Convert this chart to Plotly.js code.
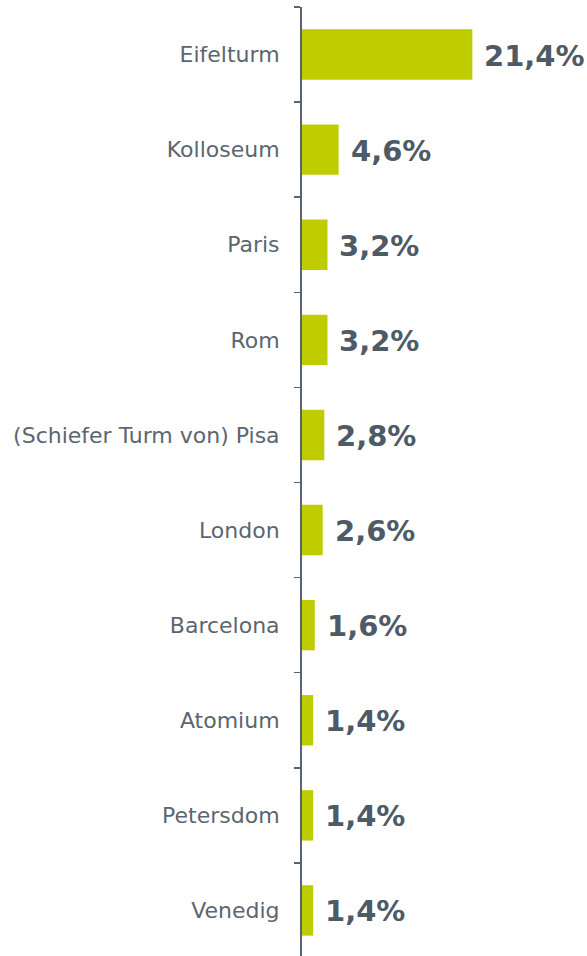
<!DOCTYPE html>
<html>
<head>
<meta charset="utf-8">
<script src="https://cdn.plot.ly/plotly-3.0.1.min.js"></script>
<style>html,body{margin:0;padding:0;background:#fff;overflow:hidden;}#chart{width:587px;height:958px;}</style>
</head>
<body>
<div id="chart"></div>
<script>
var categories = ["Eifelturm", "Kolloseum", "Paris", "Rom", "(Schiefer Turm von) Pisa", "London", "Barcelona", "Atomium", "Petersdom", "Venedig"];
var values = [21.4, 4.6, 3.2, 3.2, 2.8, 2.6, 1.6, 1.4, 1.4, 1.4];
var valueLabels = ["21,4%", "4,6%", "3,2%", "3,2%", "2,8%", "2,6%", "1,6%", "1,4%", "1,4%", "1,4%"];

var trace = {
  type: 'bar',
  orientation: 'h',
  x: values,
  y: categories,
  marker: {color: '#bfcc00'},
  hoverinfo: 'none'
};

var annotations = categories.map(function(c, i) {
  return {
    x: values[i], y: c, xref: 'x', yref: 'y',
    text: valueLabels[i], showarrow: false,
    xanchor: 'left', yanchor: 'middle', xshift: 10, yshift: -1,
    font: {family: 'DejaVu Sans', size: 29, color: '#4e5a65', weight: 'bold'}
  };
});

var layout = {
  width: 587, height: 958,
  margin: {l: 302, r: 0, t: 7, b: 0},
  paper_bgcolor: '#ffffff', plot_bgcolor: '#ffffff',
  showlegend: false,
  bargap: 0.47,
  xaxis: {range: [0, 35.8], visible: false, fixedrange: true},
  yaxis: {
    type: 'category', autorange: 'reversed',
    showline: true, linecolor: '#5a6470', linewidth: 2,
    ticks: 'outside', tickson: 'boundaries', ticklen: 6, tickwidth: 1.5, tickcolor: '#5a6470',
    ticklabelstandoff: 16,
    tickfont: {family: 'DejaVu Sans', size: 22, color: '#5b6671'},
    showgrid: false, zeroline: false, fixedrange: true
  },
  annotations: annotations
};

Plotly.newPlot('chart', [trace], layout, {displayModeBar: false, staticPlot: true});
</script>
</body>
</html>
